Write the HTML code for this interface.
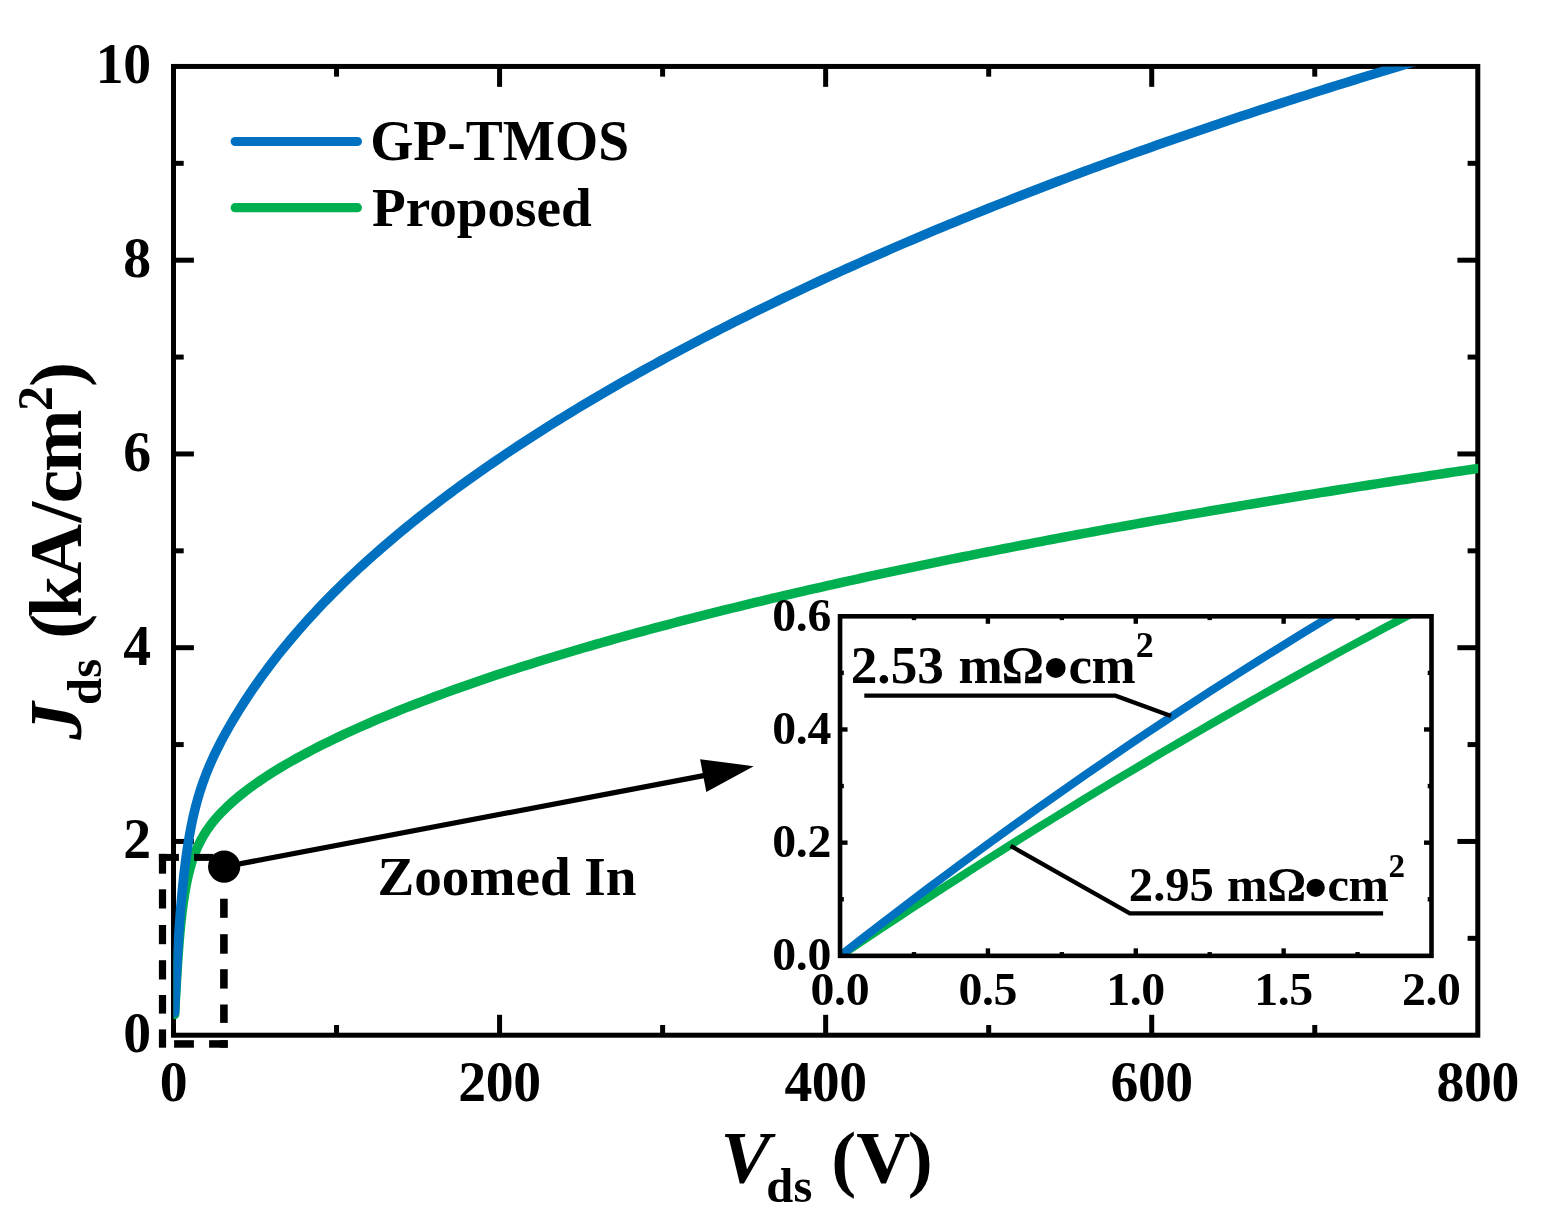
<!DOCTYPE html>
<html lang="en">
<head>
<meta charset="utf-8">
<title>Jds-Vds characteristics: GP-TMOS vs Proposed</title>
<style>
html,body{margin:0;padding:0;background:#fff;}
body{width:1545px;height:1230px;overflow:hidden;font-family:"Liberation Serif","Times New Roman",serif;}
svg{display:block;}
</style>
</head>
<body>
<svg width="1545" height="1230" viewBox="0 0 1545 1230">
<rect width="1545" height="1230" fill="#fff"/>
<defs>
<clipPath id="cm"><rect x="173.5" y="66.4" width="1304.7" height="968.8"/></clipPath>
<clipPath id="ci"><rect x="840.05" y="616.3" width="591.45" height="339.55"/></clipPath>
</defs>
<rect x="173.5" y="66.45" width="1304.3" height="968.75" stroke="#000" stroke-width="5" fill="none"/>
<g stroke="#000" stroke-width="5">
<line x1="336.54" y1="1035.2" x2="336.54" y2="1025"/>
<line x1="336.54" y1="66.45" x2="336.54" y2="76.65"/>
<line x1="499.57" y1="1035.2" x2="499.57" y2="1014.8"/>
<line x1="499.57" y1="66.45" x2="499.57" y2="86.85"/>
<line x1="662.61" y1="1035.2" x2="662.61" y2="1025"/>
<line x1="662.61" y1="66.45" x2="662.61" y2="76.65"/>
<line x1="825.65" y1="1035.2" x2="825.65" y2="1014.8"/>
<line x1="825.65" y1="66.45" x2="825.65" y2="86.85"/>
<line x1="988.69" y1="1035.2" x2="988.69" y2="1025"/>
<line x1="988.69" y1="66.45" x2="988.69" y2="76.65"/>
<line x1="1151.72" y1="1035.2" x2="1151.72" y2="1014.8"/>
<line x1="1151.72" y1="66.45" x2="1151.72" y2="86.85"/>
<line x1="1314.76" y1="1035.2" x2="1314.76" y2="1025"/>
<line x1="1314.76" y1="66.45" x2="1314.76" y2="76.65"/>
<line x1="173.5" y1="938.33" x2="183.7" y2="938.33"/>
<line x1="1477.8" y1="938.33" x2="1467.6" y2="938.33"/>
<line x1="173.5" y1="841.45" x2="193.9" y2="841.45"/>
<line x1="1477.8" y1="841.45" x2="1457.4" y2="841.45"/>
<line x1="173.5" y1="744.58" x2="183.7" y2="744.58"/>
<line x1="1477.8" y1="744.58" x2="1467.6" y2="744.58"/>
<line x1="173.5" y1="647.7" x2="193.9" y2="647.7"/>
<line x1="1477.8" y1="647.7" x2="1457.4" y2="647.7"/>
<line x1="173.5" y1="550.83" x2="183.7" y2="550.83"/>
<line x1="1477.8" y1="550.83" x2="1467.6" y2="550.83"/>
<line x1="173.5" y1="453.95" x2="193.9" y2="453.95"/>
<line x1="1477.8" y1="453.95" x2="1457.4" y2="453.95"/>
<line x1="173.5" y1="357.08" x2="183.7" y2="357.08"/>
<line x1="1477.8" y1="357.08" x2="1467.6" y2="357.08"/>
<line x1="173.5" y1="260.2" x2="193.9" y2="260.2"/>
<line x1="1477.8" y1="260.2" x2="1457.4" y2="260.2"/>
<line x1="173.5" y1="163.33" x2="183.7" y2="163.33"/>
<line x1="1477.8" y1="163.33" x2="1467.6" y2="163.33"/>
</g>
<g clip-path="url(#cm)" fill="none" stroke-width="9.5" stroke-linecap="round" stroke-linejoin="round">
<path d="M174.63,1014.49 L174.95,1008.42 L175.28,1002.34 L175.62,996.27 L175.96,990.2 L176.31,984.12 L176.67,978.05 L177.04,971.98 L177.42,965.91 L177.82,959.84 L178.24,953.77 L178.69,947.7 L179.16,941.64 L179.67,935.58 L180.21,929.52 L180.81,923.47 L181.45,917.42 L182.16,911.38 L182.94,905.34 L183.79,899.32 L184.74,893.31 L185.79,887.32 L186.97,881.35 L188.28,875.42 L189.75,869.51 L191.41,863.66 L193.28,857.88 L195.39,852.17 L197.76,846.57 L200.42,841.1 L203.36,835.77 L206.58,830.62 L210.09,825.65 L213.84,820.86 L217.82,816.26 L221.99,811.83 L226.31,807.56 L230.77,803.42 L235.35,799.41 L240.02,795.52 L244.79,791.74 L249.64,788.07 L254.56,784.49 L259.55,781.01 L264.59,777.62 L269.69,774.3 L274.84,771.06 L280.03,767.89 L285.26,764.78 L290.53,761.74 L295.83,758.76 L301.16,755.83 L306.52,752.95 L311.9,750.12 L317.31,747.34 L322.75,744.6 L328.2,741.91 L333.67,739.25 L339.16,736.63 L344.67,734.04 L350.19,731.5 L355.73,728.98 L361.28,726.5 L366.85,724.05 L372.43,721.63 L378.02,719.24 L383.63,716.88 L389.25,714.55 L394.87,712.24 L400.51,709.96 L406.16,707.71 L411.82,705.48 L417.49,703.28 L423.17,701.1 L428.86,698.94 L434.55,696.8 L440.26,694.69 L445.97,692.59 L451.69,690.52 L457.41,688.47 L463.15,686.44 L468.89,684.42 L474.63,682.43 L480.38,680.45 L486.14,678.49 L491.91,676.55 L497.68,674.62 L503.45,672.72 L509.23,670.82 L515.02,668.95 L520.81,667.09 L526.61,665.24 L532.41,663.41 L538.21,661.59 L544.02,659.79 L549.83,658 L555.65,656.23 L561.47,654.47 L567.3,652.72 L573.13,650.98 L578.96,649.26 L584.8,647.55 L590.64,645.85 L596.49,644.17 L602.33,642.49 L608.19,640.83 L614.04,639.18 L619.9,637.54 L625.76,635.91 L631.62,634.29 L637.49,632.68 L643.36,631.08 L649.23,629.49 L655.1,627.91 L660.98,626.34 L666.86,624.79 L672.74,623.24 L678.62,621.7 L684.51,620.17 L690.4,618.65 L696.29,617.13 L702.19,615.63 L708.08,614.14 L713.98,612.65 L719.88,611.17 L725.78,609.7 L731.69,608.24 L737.6,606.79 L743.5,605.35 L749.42,603.91 L755.33,602.48 L761.24,601.06 L767.16,599.65 L773.08,598.24 L779,596.84 L784.92,595.45 L790.84,594.07 L796.77,592.69 L802.69,591.33 L808.62,589.96 L814.55,588.61 L820.48,587.26 L826.42,585.92 L832.35,584.58 L838.29,583.26 L844.22,581.93 L850.16,580.62 L856.1,579.31 L862.04,578.01 L867.99,576.71 L873.93,575.42 L879.88,574.14 L885.82,572.86 L891.77,571.59 L897.72,570.32 L903.67,569.06 L909.62,567.81 L915.58,566.56 L921.53,565.31 L927.49,564.08 L933.44,562.84 L939.4,561.62 L945.36,560.4 L951.32,559.18 L957.28,557.97 L963.24,556.76 L969.21,555.56 L975.17,554.37 L981.13,553.18 L987.1,551.99 L993.07,550.81 L999.04,549.64 L1005.01,548.47 L1010.98,547.3 L1016.95,546.14 L1022.92,544.99 L1028.89,543.84 L1034.86,542.69 L1040.84,541.55 L1046.81,540.41 L1052.79,539.28 L1058.77,538.15 L1064.75,537.03 L1070.72,535.91 L1076.7,534.79 L1082.68,533.68 L1088.67,532.57 L1094.65,531.47 L1100.63,530.37 L1106.61,529.28 L1112.6,528.19 L1118.58,527.1 L1124.57,526.02 L1130.56,524.95 L1136.54,523.87 L1142.53,522.8 L1148.52,521.74 L1154.51,520.67 L1160.5,519.62 L1166.49,518.56 L1172.48,517.51 L1178.47,516.47 L1184.46,515.42 L1190.46,514.38 L1196.45,513.35 L1202.45,512.32 L1208.44,511.29 L1214.44,510.26 L1220.43,509.24 L1226.43,508.22 L1232.43,507.21 L1238.43,506.2 L1244.43,505.19 L1250.42,504.19 L1256.42,503.19 L1262.42,502.19 L1268.43,501.2 L1274.43,500.21 L1280.43,499.22 L1286.43,498.24 L1292.43,497.26 L1298.44,496.28 L1304.44,495.3 L1310.45,494.33 L1316.45,493.37 L1322.46,492.4 L1328.46,491.44 L1334.47,490.48 L1340.48,489.52 L1346.49,488.57 L1352.49,487.62 L1358.5,486.68 L1364.51,485.73 L1370.52,484.79 L1376.53,483.85 L1382.54,482.92 L1388.55,481.99 L1394.56,481.06 L1400.58,480.13 L1406.59,479.21 L1412.6,478.29 L1418.61,477.37 L1424.63,476.45 L1430.64,475.54 L1436.65,474.63 L1442.67,473.72 L1448.68,472.82 L1454.7,471.92 L1460.72,471.02 L1466.73,470.12 L1472.75,469.23 L1478.77,468.34 L1484.78,467.45 L1490.8,466.56 L1496.82,465.68 L1502.84,464.8 L1508.86,463.92 L1514.88,463.04 L1520.9,462.17 L1526.91,461.3" stroke="#00B050"/>
<path d="M174.58,1012.49 L174.89,1005.56 L175.22,998.63 L175.57,991.71 L175.92,984.78 L176.27,977.85 L176.64,970.93 L177.01,964 L177.4,957.08 L177.81,950.16 L178.23,943.23 L178.67,936.31 L179.13,929.39 L179.61,922.47 L180.13,915.56 L180.67,908.64 L181.25,901.73 L181.87,894.82 L182.53,887.92 L183.24,881.02 L183.99,874.13 L184.8,867.24 L185.68,860.36 L186.61,853.49 L187.63,846.62 L188.72,839.78 L189.91,832.94 L191.21,826.13 L192.61,819.34 L194.15,812.58 L195.83,805.85 L197.65,799.16 L199.63,792.51 L201.77,785.91 L204.08,779.37 L206.54,772.89 L209.17,766.47 L211.95,760.12 L214.87,753.83 L217.93,747.6 L221.1,741.43 L224.38,735.32 L227.75,729.26 L231.2,723.25 L234.74,717.28 L238.34,711.36 L242.03,705.48 L245.79,699.65 L249.61,693.87 L253.51,688.13 L257.48,682.44 L261.51,676.8 L265.61,671.2 L269.77,665.65 L273.99,660.15 L278.27,654.69 L282.61,649.28 L287,643.92 L291.45,638.59 L295.95,633.32 L300.5,628.09 L305.11,622.9 L309.76,617.76 L314.46,612.66 L319.21,607.6 L324,602.59 L328.83,597.61 L333.71,592.68 L338.63,587.8 L343.59,582.95 L348.59,578.14 L353.63,573.37 L358.7,568.64 L363.81,563.95 L368.95,559.3 L374.13,554.68 L379.33,550.1 L384.57,545.56 L389.85,541.05 L395.15,536.58 L400.47,532.14 L405.83,527.74 L411.22,523.37 L416.63,519.03 L422.06,514.72 L427.53,510.45 L433.01,506.2 L438.52,501.99 L444.06,497.81 L449.61,493.66 L455.19,489.54 L460.79,485.44 L466.41,481.38 L472.05,477.34 L477.71,473.33 L483.38,469.35 L489.08,465.39 L494.8,461.47 L500.53,457.56 L506.28,453.68 L512.05,449.83 L517.83,446 L523.63,442.2 L529.44,438.42 L535.28,434.67 L541.12,430.93 L546.98,427.23 L552.86,423.54 L558.74,419.87 L564.65,416.23 L570.56,412.61 L576.49,409.01 L582.43,405.43 L588.39,401.88 L594.35,398.34 L600.33,394.82 L606.32,391.33 L612.32,387.85 L618.33,384.39 L624.35,380.95 L630.39,377.53 L636.43,374.13 L642.49,370.75 L648.55,367.39 L654.63,364.04 L660.71,360.71 L666.8,357.4 L672.91,354.11 L679.02,350.83 L685.14,347.57 L691.27,344.33 L697.41,341.1 L703.56,337.89 L709.72,334.7 L715.89,331.53 L722.06,328.37 L728.24,325.23 L734.43,322.1 L740.63,318.99 L746.84,315.89 L753.05,312.81 L759.27,309.75 L765.5,306.7 L771.74,303.67 L777.98,300.65 L784.24,297.65 L790.49,294.66 L796.76,291.68 L803.03,288.72 L809.31,285.78 L815.6,282.85 L821.89,279.93 L828.19,277.03 L834.5,274.14 L840.81,271.27 L847.12,268.41 L853.45,265.56 L859.78,262.73 L866.12,259.91 L872.46,257.1 L878.81,254.31 L885.16,251.53 L891.52,248.76 L897.88,246 L904.25,243.26 L910.63,240.53 L917.01,237.82 L923.4,235.11 L929.79,232.42 L936.19,229.74 L942.59,227.08 L949,224.42 L955.41,221.78 L961.83,219.15 L968.25,216.53 L974.67,213.92 L981.11,211.32 L987.54,208.74 L993.98,206.17 L1000.43,203.61 L1006.88,201.06 L1013.33,198.52 L1019.79,195.99 L1026.25,193.47 L1032.72,190.97 L1039.19,188.47 L1045.67,185.99 L1052.15,183.51 L1058.63,181.05 L1065.12,178.6 L1071.61,176.16 L1078.1,173.73 L1084.6,171.31 L1091.11,168.9 L1097.61,166.5 L1104.12,164.1 L1110.64,161.72 L1117.16,159.35 L1123.68,156.99 L1130.2,154.64 L1136.73,152.3 L1143.26,149.97 L1149.8,147.65 L1156.34,145.34 L1162.88,143.04 L1169.42,140.74 L1175.97,138.46 L1182.52,136.18 L1189.08,133.92 L1195.64,131.66 L1202.2,129.42 L1208.76,127.18 L1215.33,124.95 L1221.9,122.73 L1228.48,120.52 L1235.05,118.32 L1241.63,116.12 L1248.21,113.94 L1254.8,111.76 L1261.39,109.59 L1267.98,107.44 L1274.57,105.28 L1281.17,103.14 L1287.77,101.01 L1294.37,98.88 L1300.97,96.77 L1307.58,94.66 L1314.19,92.56 L1320.8,90.46 L1327.42,88.38 L1334.03,86.3 L1340.65,84.23 L1347.28,82.17 L1353.9,80.12 L1360.53,78.07 L1367.16,76.03 L1373.79,74 L1380.42,71.98 L1387.06,69.97 L1393.7,67.96 L1400.34,65.96 L1406.98,63.97 L1413.63,61.98 L1420.27,60 L1426.92,58.03 L1433.58,56.07 L1440.23,54.12 L1446.89,52.17 L1453.54,50.23 L1460.2,48.29 L1466.87,46.36 L1473.53,44.44 L1480.2,42.53 L1486.86,40.62 L1493.53,38.72 L1500.21,36.83 L1506.88,34.95 L1513.56,33.07 L1520.24,31.19 L1526.91,29.33" stroke="#0070C0"/>
</g>
<line x1="235.2" y1="141.5" x2="357.4" y2="141.5" stroke="#0070C0" stroke-width="9.2" stroke-linecap="round"/>
<line x1="235.2" y1="207.7" x2="357.4" y2="207.7" stroke="#00B050" stroke-width="9.2" stroke-linecap="round"/>
<g clip-path="url(#ci)" fill="none" stroke-width="8.2" stroke-linejoin="round">
<path d="M834.14,959.84 L849.83,949.28 L865.53,938.79 L881.22,928.36 L896.92,917.99 L912.62,907.69 L928.31,897.46 L944.01,887.28 L959.7,877.18 L975.4,867.13 L991.1,857.15 L1006.79,847.23 L1022.49,837.38 L1038.19,827.59 L1053.88,817.87 L1069.58,808.21 L1085.27,798.61 L1100.97,789.07 L1116.67,779.61 L1132.36,770.2 L1148.06,760.86 L1163.76,751.58 L1179.45,742.37 L1195.15,733.22 L1210.84,724.13 L1226.54,715.11 L1242.24,706.15 L1257.93,697.26 L1273.63,688.43 L1289.32,679.66 L1305.02,670.96 L1320.72,662.32 L1336.41,653.75 L1352.11,645.24 L1367.81,636.79 L1383.5,628.41 L1399.2,620.09 L1414.89,611.83 L1430.59,603.64 L1446.29,595.52" stroke="#00B050"/>
<path d="M834.14,960.49 L849.83,948.2 L865.53,936.01 L881.22,923.9 L896.92,911.89 L912.62,899.97 L928.31,888.14 L944.01,876.41 L959.7,864.76 L975.4,853.21 L991.1,841.75 L1006.79,830.38 L1022.49,819.1 L1038.19,807.92 L1053.88,796.82 L1069.58,785.82 L1085.27,774.91 L1100.97,764.09 L1116.67,753.37 L1132.36,742.73 L1148.06,732.19 L1163.76,721.74 L1179.45,711.38 L1195.15,701.11 L1210.84,690.93 L1226.54,680.85 L1242.24,670.86 L1257.93,660.96 L1273.63,651.15 L1289.32,641.43 L1305.02,631.81 L1320.72,622.27 L1336.41,612.83 L1352.11,603.48 L1367.81,594.22 L1383.5,585.06 L1399.2,575.98 L1414.89,567 L1430.59,558.11 L1446.29,549.31" stroke="#0070C0"/>
</g>
<rect x="840.05" y="616.3" width="591.45" height="339.55" stroke="#000" stroke-width="4.6" fill="none"/>
<g stroke="#000" stroke-width="4.4">
<line x1="913.98" y1="955.85" x2="913.98" y2="952.05"/>
<line x1="913.98" y1="616.3" x2="913.98" y2="620.1"/>
<line x1="987.91" y1="955.85" x2="987.91" y2="948.35"/>
<line x1="987.91" y1="616.3" x2="987.91" y2="623.8"/>
<line x1="1061.84" y1="955.85" x2="1061.84" y2="952.05"/>
<line x1="1061.84" y1="616.3" x2="1061.84" y2="620.1"/>
<line x1="1135.78" y1="955.85" x2="1135.78" y2="948.35"/>
<line x1="1135.78" y1="616.3" x2="1135.78" y2="623.8"/>
<line x1="1209.71" y1="955.85" x2="1209.71" y2="952.05"/>
<line x1="1209.71" y1="616.3" x2="1209.71" y2="620.1"/>
<line x1="1283.64" y1="955.85" x2="1283.64" y2="948.35"/>
<line x1="1283.64" y1="616.3" x2="1283.64" y2="623.8"/>
<line x1="1357.57" y1="955.85" x2="1357.57" y2="952.05"/>
<line x1="1357.57" y1="616.3" x2="1357.57" y2="620.1"/>
<line x1="840.05" y1="899.26" x2="843.85" y2="899.26"/>
<line x1="1431.5" y1="899.26" x2="1427.7" y2="899.26"/>
<line x1="840.05" y1="842.67" x2="847.55" y2="842.67"/>
<line x1="1431.5" y1="842.67" x2="1424" y2="842.67"/>
<line x1="840.05" y1="786.07" x2="843.85" y2="786.07"/>
<line x1="1431.5" y1="786.07" x2="1427.7" y2="786.07"/>
<line x1="840.05" y1="729.48" x2="847.55" y2="729.48"/>
<line x1="1431.5" y1="729.48" x2="1424" y2="729.48"/>
<line x1="840.05" y1="672.89" x2="843.85" y2="672.89"/>
<line x1="1431.5" y1="672.89" x2="1427.7" y2="672.89"/>
</g>
<g fill="#000">
<rect x="158.9" y="853.9" width="7.2" height="19.8"/>
<rect x="158.9" y="889.3" width="7.2" height="19.2"/>
<rect x="158.9" y="925" width="7.2" height="19.2"/>
<rect x="158.9" y="960.2" width="7.2" height="19.3"/>
<rect x="158.9" y="995" width="7.2" height="18.6"/>
<rect x="158.9" y="1029.4" width="7.2" height="18.3"/>
<rect x="158.9" y="853.9" width="20" height="7"/>
<rect x="194.1" y="853.9" width="19.3" height="7"/>
<rect x="220.1" y="898.7" width="7.6" height="19.1"/>
<rect x="220.1" y="934.2" width="7.6" height="19.5"/>
<rect x="220.1" y="969.2" width="7.6" height="19.4"/>
<rect x="220.1" y="1004.5" width="7.6" height="18.4"/>
<rect x="220.1" y="1040.2" width="7.6" height="7.5"/>
<rect x="174.1" y="1040.2" width="19.8" height="7.5"/>
<rect x="209.1" y="1040.2" width="18.6" height="7.5"/>
</g>
<g fill="none" stroke="#000" stroke-width="4.4">
<polyline points="864.3,695.6 1115.5,695.6 1171,716"/>
<polyline points="1010.6,845.85 1129.8,913.4 1383.1,913.4"/>
</g>
<line x1="224.2" y1="866.8" x2="705" y2="775.4" stroke="#000" stroke-width="5.2"/>
<polygon points="700.1,759.2 753.7,766.2 706.3,792.1" fill="#000"/>
<circle cx="224.15" cy="866.6" r="16.1" fill="#000"/>
<g font-family="'Liberation Serif', 'Times New Roman', serif" font-weight="bold" fill="#000">
<g font-size="55.7" text-anchor="middle" letter-spacing="-0.4">
<text transform="translate(173.4,1100.6) scale(1,1.025)">0</text>
<text transform="translate(499.47,1100.6) scale(1,1.025)">200</text>
<text transform="translate(825.55,1100.6) scale(1,1.025)">400</text>
<text transform="translate(1151.62,1100.6) scale(1,1.025)">600</text>
<text transform="translate(1477.7,1100.6) scale(1,1.025)">800</text>
</g>
<g font-size="55.7" text-anchor="end" letter-spacing="-0.4">
<text transform="translate(150.7,1052.2) scale(1,1.025)">0</text>
<text transform="translate(150.7,858.45) scale(1,1.025)">2</text>
<text transform="translate(150.7,664.7) scale(1,1.025)">4</text>
<text transform="translate(150.7,470.95) scale(1,1.025)">6</text>
<text transform="translate(150.7,277.2) scale(1,1.025)">8</text>
<text transform="translate(150.7,83.45) scale(1,1.025)">10</text>
</g>
<text><tspan x="720.6" y="1183" font-size="75" font-style="italic">V</tspan><tspan x="766.2" y="1201.8" font-size="48.5" letter-spacing="0.4">ds</tspan><tspan x="815 831.2 856.2 907.8" y="1183" font-size="75"> (V)</tspan></text>
<text transform="translate(81.2,741) rotate(-90)"><tspan x="1.2" y="0" font-size="75" font-style="italic">J</tspan><tspan x="36" y="19.3" font-size="48.5" letter-spacing="0.2">ds</tspan><tspan x="85 102.2 123.4 163 218.5 237.8 268.9" y="0" font-size="75"> (kA/cm</tspan><tspan x="330" y="-28.8" font-size="50">2</tspan><tspan x="354" y="0" font-size="75">)</tspan></text>
<text transform="translate(370.2,159.9) scale(1,1.035)" font-size="55.5">GP-TMOS</text>
<text transform="translate(372,226.4) scale(1,1.01)" font-size="55.2">Proposed</text>
<text transform="translate(377.4,894.5) scale(1,1.01)" font-size="55.2">Zoomed In</text>
<text><tspan x="850.75 877.35 890.65 917.25 943.85 958.6 1001.5" y="683" font-size="53.2">2.53 mΩ</tspan><tspan x="1043.1" y="692.6" font-size="73">•</tspan><tspan x="1068.5" y="683" font-size="53" letter-spacing="-0.6">cm</tspan><tspan x="1135.7" y="656.8" font-size="36">2</tspan></text>
<text><tspan x="1128.85 1153.15 1165.3 1189.6 1213.9 1226.9 1267.3" y="900.6" font-size="48.6">2.95 mΩ</tspan><tspan x="1303.7" y="909.8" font-size="68">•</tspan><tspan x="1327.5" y="900.6" font-size="48.4" letter-spacing="-0.5">cm</tspan><tspan x="1388.5" y="877.1" font-size="33">2</tspan></text>
<g font-size="47.8" text-anchor="middle" letter-spacing="-0.4">
<text transform="translate(839.85,1004.6) scale(1,0.96)">0.0</text>
<text transform="translate(987.71,1004.6) scale(1,0.96)">0.5</text>
<text transform="translate(1135.58,1004.6) scale(1,0.96)">1.0</text>
<text transform="translate(1283.44,1004.6) scale(1,0.96)">1.5</text>
<text transform="translate(1431.3,1004.6) scale(1,0.96)">2.0</text>
</g>
<g font-size="47.8" text-anchor="end" letter-spacing="-0.4">
<text transform="translate(830.9,970.05) scale(1,0.96)">0.0</text>
<text transform="translate(830.9,856.87) scale(1,0.96)">0.2</text>
<text transform="translate(830.9,743.68) scale(1,0.96)">0.4</text>
<text transform="translate(830.9,630.5) scale(1,0.96)">0.6</text>
</g>
</g>
</svg>
</body>
</html>
